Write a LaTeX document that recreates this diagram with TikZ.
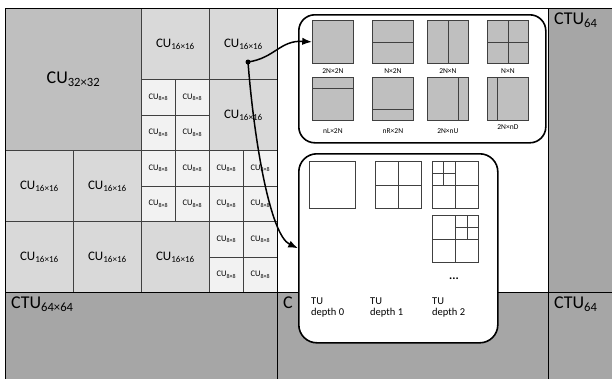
\documentclass[tikz,border=0pt]{standalone}
\usepackage{fontspec}
\setmainfont{Carlito}
\usetikzlibrary{arrows.meta, positioning, calc}
\definecolor{ctugrey}{HTML}{A6A6A6}
\definecolor{cugrey32}{HTML}{BFBFBF}
\definecolor{cugrey16}{HTML}{D9D9D9}
\definecolor{cugrey8}{HTML}{F2F2F2}
\definecolor{pugrey}{HTML}{BFBFBF}
\definecolor{gridline}{HTML}{404040}

\begin{document}
\begin{tikzpicture}[x=1pt, y=-1pt,
    ctu/.style={draw=black, line width=1.2pt, fill=ctugrey, anchor=north west,
      inner sep=0pt, minimum height=284pt},
    cell/.style={draw=gridline, line width=0.8pt, anchor=north west, inner sep=0pt},
    cuA/.style={cell, fill=cugrey32, minimum width=136pt, minimum height=142pt,
      font=\fontsize{18}{20}\selectfont},
    cuB/.style={cell, fill=cugrey16, minimum width=68pt, minimum height=71pt,
      font=\fontsize{13}{15}\selectfont},
    cuC/.style={cell, fill=cugrey8, minimum width=34pt, minimum height=35.5pt,
      font=\fontsize{8.5}{10}\selectfont},
    ctulabel/.style={anchor=north west, inner sep=2pt, font=\fontsize{18}{20}\selectfont},
    panel/.style={draw=black, line width=1.6pt, fill=white, rounded corners=16pt,
      anchor=north west, inner sep=0pt},
    pu/.style={draw=gridline, line width=0.8pt, fill=pugrey, anchor=north west,
      inner sep=0pt, minimum width=41pt, minimum height=43pt},
    pulabel/.style={inner sep=1pt, font=\fontsize{7.5}{8}\selectfont},
    tu/.style={draw=gridline, line width=0.8pt, fill=white, anchor=north west,
      inner sep=0pt, minimum width=46pt, minimum height=47pt},
    tulabel/.style={anchor=north west, align=left, inner sep=0pt,
      font=\fontsize{10.5}{11}\selectfont},
    split/.style={draw=gridline, line width=0.8pt},
    >=Latex
  ]
  \useasboundingbox (0,0) rectangle (612,378);
  \clip (0,0) rectangle (612,378);

  % coding tree units
  \node[ctu, fill=white, minimum width=271pt] (ctuB) at (277,8) {};
  \node[ctu, minimum width=272pt] (ctuC) at (548,8) {};
  \node[ctu, minimum width=272pt, minimum height=100pt] (ctuD) at (5,292) {};
  \node[ctu, minimum width=271pt, minimum height=100pt] (ctuE) at (277,292) {};
  \node[ctu, minimum width=272pt, minimum height=100pt] (ctuF) at (548,292) {};

  % quadtree of the first CTU
  \node[cuA] (cu32) at (5,8) {CU\textsubscript{32×32}};
  \node[cuB] (cu16a) at (141,8) {CU\textsubscript{16×16}};
  \node[cuB] (cu16b) at (209,8) {CU\textsubscript{16×16}};
  \node[cuB] (cu16c) at (209,79) {CU\textsubscript{16×16}};
  \foreach \y [count=\r] in {150,221}
    \foreach \x [count=\c] in {5,73}
      \node[cuB] (cu16-\r\c) at (\x,\y) {CU\textsubscript{16×16}};
  \node[cuB] (cu16g) at (141,221) {CU\textsubscript{16×16}};
  \foreach \gx/\gy [count=\g] in {141/79, 141/150, 209/150, 209/221}
    \foreach \i in {0,1}
      \foreach \j in {0,1}
        \node[cuC] (cu8-\g-\i\j) at ({\gx+34*\i},{\gy+35.5*\j}) {CU\textsubscript{8×8}};
  \node[ctu, fill=none, minimum width=272pt] (ctuA) at (5,8) {};

  \node[ctulabel] (lblC) at ($(ctuC.north west)+(4,3)$) {CTU\textsubscript{64}};
  \node[ctulabel] (lblD) at ($(ctuD.north west)+(4,3)$) {CTU\textsubscript{64×64}};
  \node[ctulabel] (lblE) at ($(ctuE.north west)+(4,3)$) {C};
  \node[ctulabel] (lblF) at ($(ctuF.north west)+(4,3)$) {CTU\textsubscript{64}};

  % prediction units
  \node[panel, minimum width=247pt, minimum height=128pt] (pubox) at (298,14) {};
  \foreach \x [count=\i] in {312,372,427,487}
    \node[pu] (pu\i) at (\x,20) {};
  \foreach \x [count=\i from 5] in {312,372,427,487}
    \node[pu] (pu\i) at (\x,77) {};
  \draw[split] (pu2.west) -- (pu2.east);
  \draw[split] (pu3.north) -- (pu3.south);
  \draw[split] (pu4.west) -- (pu4.east) (pu4.north) -- (pu4.south);
  \draw[split] ($(pu5.north west)!.25!(pu5.south west)$) -- ($(pu5.north east)!.25!(pu5.south east)$);
  \draw[split] ($(pu6.north west)!.75!(pu6.south west)$) -- ($(pu6.north east)!.75!(pu6.south east)$);
  \draw[split] ($(pu7.north west)!.75!(pu7.north east)$) -- ($(pu7.south west)!.75!(pu7.south east)$);
  \draw[split] ($(pu8.north west)!.25!(pu8.north east)$) -- ($(pu8.south west)!.25!(pu8.south east)$);
  \node[pulabel, below=3.5pt of pu1] (pl1) {2N×2N};
  \node[pulabel, below=3.5pt of pu2] (pl2) {N×2N};
  \node[pulabel, below=3.5pt of pu3] (pl3) {2N×N};
  \node[pulabel, below=3.5pt of pu4] (pl4) {N×N};
  \node[pulabel, below=7pt of pu5] (pl5) {nL×2N};
  \node[pulabel, below=7pt of pu6] (pl6) {nR×2N};
  \node[pulabel, below=7pt of pu7] (pl7) {2N×nU};
  \node[pulabel, below=3pt of pu8] (pl8) {2N×nD};

  % transform units
  \node[panel, rounded corners=18pt, minimum width=199pt, minimum height=189pt] (tubox) at (298,153) {};
  \node[tu] (tu1) at (309,161) {};
  \node[tu] (tu2) at (375,161) {};
  \node[tu] (tu3) at (432,161) {};
  \node[tu] (tu4) at (432,215) {};
  \foreach \t in {tu2,tu3,tu4}
    \draw[split] (\t.west) -- (\t.east) (\t.north) -- (\t.south);
  \draw[split] ($(tu3.north west)!.5!(tu3.north)$) -- ($(tu3.west)!.5!(tu3.center)$);
  \draw[split] ($(tu3.north west)!.5!(tu3.west)$) -- ($(tu3.north)!.5!(tu3.center)$);
  \draw[split] ($(tu4.north)!.5!(tu4.north east)$) -- ($(tu4.center)!.5!(tu4.east)$);
  \draw[split] ($(tu4.north)!.5!(tu4.center)$) -- ($(tu4.north east)!.5!(tu4.east)$);
  \node[font=\fontsize{12}{12}\selectfont\bfseries] (more) at (454,279) {...};
  \node[tulabel] (tl0) at (311,298) {TU\\depth 0};
  \node[tulabel] (tl1) at (370,298) {TU\\depth 1};
  \node[tulabel] (tl2) at (432,298) {TU\\depth 2};

  % links from the chosen CU
  \node[circle, fill=black, inner sep=0pt, minimum size=5pt] (pick) at (248,62) {};
  \draw[->, line width=1.5pt] (pick.center) .. controls (275,58) and (280,40) .. (pu1.west);
  \draw[->, line width=1.5pt] (pick.center) .. controls (254,140) and (270,235) .. (tubox.west);
\end{tikzpicture}
\end{document}
